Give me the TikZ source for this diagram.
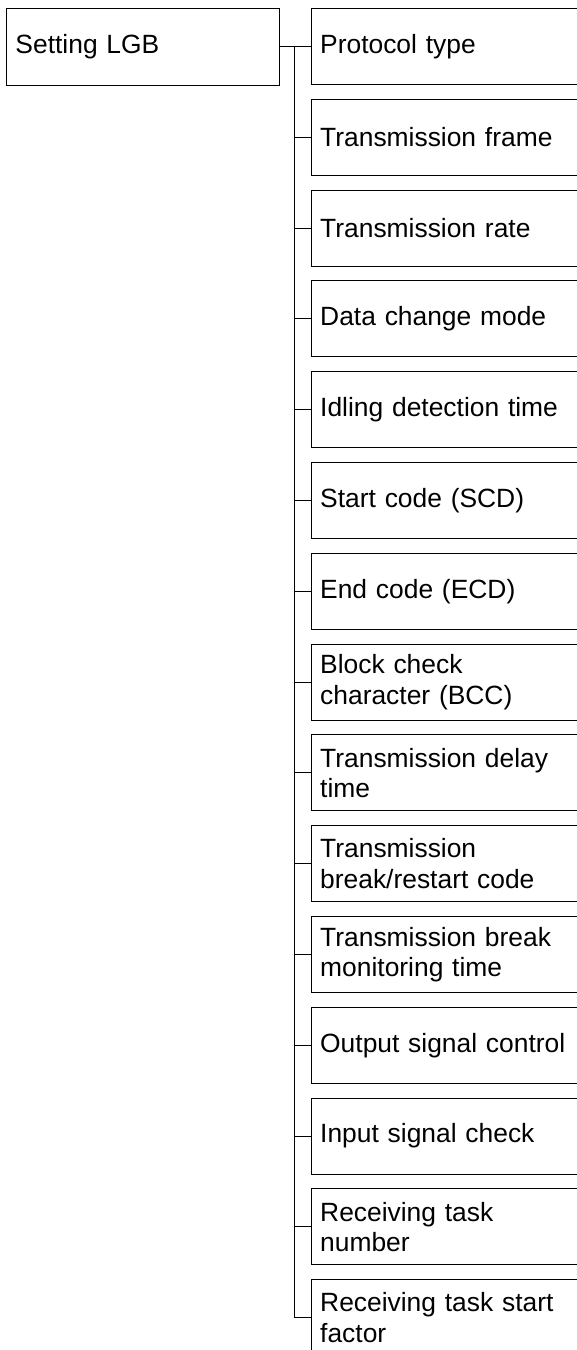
\documentclass[tikz,border=0pt]{standalone}
\usepackage{fontspec}
\setmainfont{Liberation Sans}
\usepackage{tikz}
\usetikzlibrary{positioning, calc}

\tikzset{
  lgbbox/.style={draw, line width=1pt, minimum width=273pt, minimum height=77pt,
    inner xsep=9pt, inner ysep=0pt, text width=255pt, align=left, anchor=west},
  itembox/.style={draw, line width=1pt, minimum width=300pt, minimum height=76pt,
    inner xsep=9pt, inner ysep=0pt, text width=282pt, align=left, anchor=west},
  wire/.style={line width=1pt}
}

\begin{document}
\begin{tikzpicture}[x=1pt, y=-1pt, font=\fontsize{26.4}{30.5}\selectfont]
\useasboundingbox (0,0) rectangle (577,1350);
\clip (0,0) rectangle (577,1350);
% Parent
\node[lgbbox] (lgb) at (6,46.5) {Setting LGB};
% Items
\node[itembox] (protocol) at (310.7,46.5) {Protocol type};
\node[itembox] (frame) at (310.7,137.3) {Transmission frame};
\node[itembox] (rate) at (310.7,228.1) {Transmission rate};
\node[itembox] (datamode) at (310.7,318.9) {Data change mode};
\node[itembox] (idling) at (310.7,409.7) {Idling detection time};
\node[itembox] (scd) at (310.7,500.5) {Start code (SCD)};
\node[itembox] (ecd) at (310.7,591.3) {End code (ECD)};
\node[itembox] (bcc) at (310.7,682.1) {Block check\\character (BCC)};
\node[itembox] (delay) at (310.7,772.9) {Transmission delay\\time};
\node[itembox] (restart) at (310.7,863.7) {Transmission\\break/restart code};
\node[itembox] (monitor) at (310.7,954.5) {Transmission break\\monitoring time};
\node[itembox] (outsig) at (310.7,1045.3) {Output signal control};
\node[itembox] (insig) at (310.7,1136.1) {Input signal check};
\node[itembox] (tasknum) at (310.7,1226.9) {Receiving task\\number};
\node[itembox] (taskstart) at (310.7,1317.7) {Receiving task start\\factor};
% Trunk
\coordinate (trunktop) at (294.5,46.5);
\draw[wire] (lgb.east) -- (protocol.west);
\draw[wire] (trunktop) -- (trunktop |- taskstart.west);
% Branches
\draw[wire] (trunktop |- frame.west) -- (frame.west);
\draw[wire] (trunktop |- rate.west) -- (rate.west);
\draw[wire] (trunktop |- datamode.west) -- (datamode.west);
\draw[wire] (trunktop |- idling.west) -- (idling.west);
\draw[wire] (trunktop |- scd.west) -- (scd.west);
\draw[wire] (trunktop |- ecd.west) -- (ecd.west);
\draw[wire] (trunktop |- bcc.west) -- (bcc.west);
\draw[wire] (trunktop |- delay.west) -- (delay.west);
\draw[wire] (trunktop |- restart.west) -- (restart.west);
\draw[wire] (trunktop |- monitor.west) -- (monitor.west);
\draw[wire] (trunktop |- outsig.west) -- (outsig.west);
\draw[wire] (trunktop |- insig.west) -- (insig.west);
\draw[wire] (trunktop |- tasknum.west) -- (tasknum.west);
\draw[wire] (trunktop |- taskstart.west) -- (taskstart.west);
\end{tikzpicture}
\end{document}
